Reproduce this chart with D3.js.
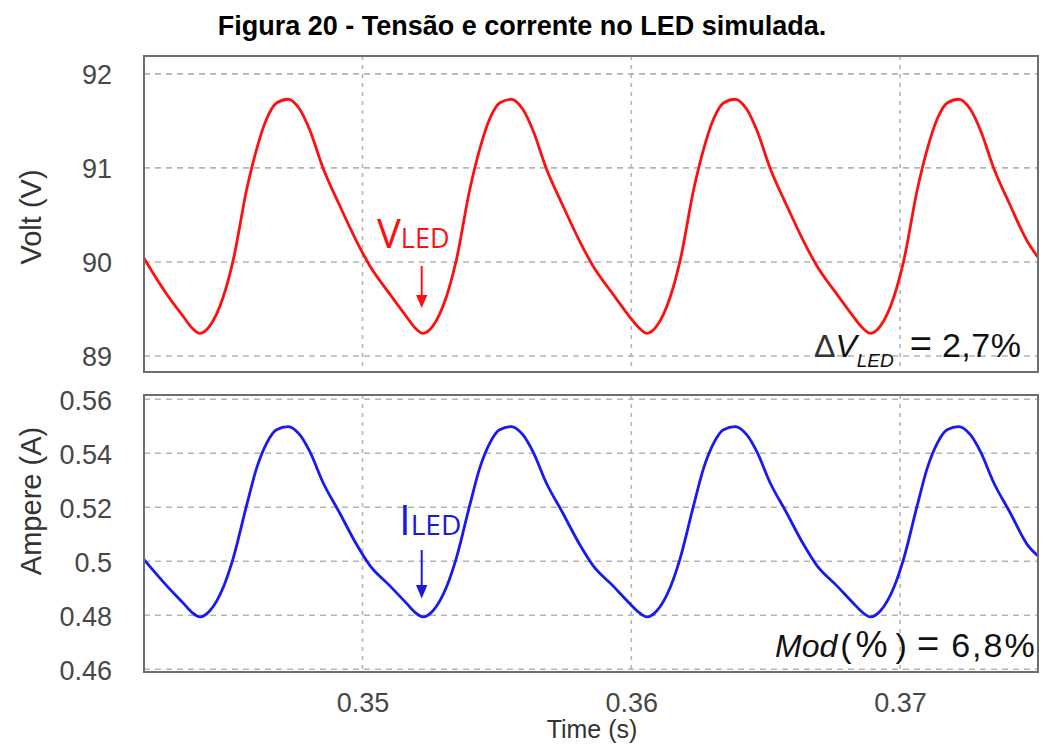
<!DOCTYPE html>
<html>
<head>
<meta charset="utf-8">
<script src="https://cdn.jsdelivr.net/npm/d3@7"></script>
<style>
  html, body { margin: 0; padding: 0; background: #fff; }
  svg { display: block; }
</style>
</head>
<body>
<svg id="chart" width="1042" height="745"></svg>
<script>
// ---------- data ----------
const timeS = [
  0.34187, 0.34271, 0.34333, 0.34365,
  0.34395, 0.34432, 0.34482, 0.34519, 0.34569, 0.34606, 0.34643, 0.34680, 0.34723,
  0.34767, 0.34804, 0.34853, 0.34915, 0.34978, 0.35027, 0.35101, 0.35163, 0.35195,
  0.35225, 0.35262, 0.35312, 0.35349, 0.35399, 0.35436, 0.35473, 0.35510, 0.35553,
  0.35597, 0.35634, 0.35683, 0.35745, 0.35808, 0.35857, 0.35931, 0.35993, 0.36028,
  0.36058, 0.36095, 0.36145, 0.36182, 0.36232, 0.36269, 0.36306, 0.36343, 0.36386,
  0.36430, 0.36467, 0.36516, 0.36578, 0.36641, 0.36690, 0.36764, 0.36826, 0.36860,
  0.36890, 0.36927, 0.36977, 0.37014, 0.37064, 0.37101, 0.37138, 0.37175, 0.37218,
  0.37262, 0.37299, 0.37348, 0.37410, 0.37473, 0.37513
];
const voltV = [
  90.04, 89.66, 89.42, 89.30,
  89.24, 89.32, 89.63, 90.02, 90.77, 91.20, 91.52, 91.69, 91.73,
  91.62, 91.40, 91.00, 90.60, 90.22, 89.96, 89.66, 89.42, 89.30,
  89.24, 89.32, 89.63, 90.02, 90.77, 91.20, 91.52, 91.69, 91.73,
  91.62, 91.40, 91.00, 90.60, 90.22, 89.96, 89.66, 89.42, 89.30,
  89.24, 89.32, 89.63, 90.02, 90.77, 91.20, 91.52, 91.69, 91.73,
  91.62, 91.40, 91.00, 90.60, 90.22, 89.96, 89.66, 89.42, 89.30,
  89.24, 89.32, 89.63, 90.02, 90.77, 91.20, 91.52, 91.69, 91.73,
  91.62, 91.40, 91.00, 90.60, 90.22, 90.05
];
const currentA = [
  0.5006, 0.4910, 0.4845, 0.4811,
  0.4794, 0.4817, 0.4904, 0.5012, 0.5208, 0.5345, 0.5437, 0.5487, 0.5499,
  0.5468, 0.5406, 0.5292, 0.5179, 0.5062, 0.4985, 0.4910, 0.4845, 0.4811,
  0.4794, 0.4817, 0.4904, 0.5012, 0.5208, 0.5345, 0.5437, 0.5487, 0.5499,
  0.5468, 0.5406, 0.5292, 0.5179, 0.5062, 0.4985, 0.4910, 0.4845, 0.4811,
  0.4794, 0.4817, 0.4904, 0.5012, 0.5208, 0.5345, 0.5437, 0.5487, 0.5499,
  0.5468, 0.5406, 0.5292, 0.5179, 0.5062, 0.4985, 0.4910, 0.4845, 0.4811,
  0.4794, 0.4817, 0.4904, 0.5012, 0.5208, 0.5345, 0.5437, 0.5487, 0.5499,
  0.5468, 0.5406, 0.5292, 0.5179, 0.5062, 0.5020
];
const timeTicks = [0.35, 0.36, 0.37];
const voltTicks = [89, 90, 91, 92];
const ampTicks = [0.46, 0.48, 0.5, 0.52, 0.54, 0.56];
const titleText = "Figura 20 - Tensão e corrente no LED simulada.";

// ---------- layout ----------
const svg = d3.select("#chart");
const L = 144, R = 1038;
const top1 = 56, bot1 = 372;
const top2 = 395, bot2 = 672;
const SANS = "'Liberation Sans', Arial, Helvetica, sans-serif";

const x = d3.scaleLinear().domain([0.34187, 0.37513]).range([L, R]);
const yV = d3.scaleLinear().domain([88.83, 92.19]).range([bot1, top1]);
const yI = d3.scaleLinear().domain([0.4590, 0.5616]).range([bot2, top2]);

svg.append("rect").attr("width", 1042).attr("height", 745).attr("fill", "#fff");

// title
svg.append("text")
  .attr("x", 522).attr("y", 35)
  .attr("text-anchor", "middle")
  .attr("font-family", SANS).attr("font-weight", "bold")
  .attr("font-size", 27).attr("fill", "#000")
  .text(titleText);

function panel(yScale, ticks, top, bot, fmt, id) {
  const g = svg.append("g");
  const clipId = "clip" + id;
  svg.append("clipPath").attr("id", clipId)
    .append("rect").attr("x", L).attr("y", top).attr("width", R - L).attr("height", bot - top);
  // horizontal grid
  g.selectAll(".hg").data(ticks).join("line")
    .attr("x1", L).attr("x2", R)
    .attr("y1", d => yScale(d)).attr("y2", d => yScale(d))
    .attr("stroke", "#b4b4b4").attr("stroke-width", 1.6)
    .attr("stroke-dasharray", "6,5");
  // vertical grid
  g.selectAll(".vg").data(timeTicks).join("line")
    .attr("x1", d => x(d)).attr("x2", d => x(d))
    .attr("y1", top).attr("y2", bot)
    .attr("stroke", "#b4b4b4").attr("stroke-width", 1.6)
    .attr("stroke-dasharray", "4,5");
  // y axis labels
  const ax = d3.axisLeft(yScale).tickValues(ticks).tickSize(0).tickPadding(32).tickFormat(fmt);
  const ag = g.append("g").attr("transform", `translate(${L},0)`).call(ax);
  ag.select(".domain").remove();
  ag.selectAll("text").attr("font-family", SANS).attr("font-size", 27)
    .attr("fill", "#474747").attr("dy", "0.36em");
  return {g, clipId};
}

const p1 = panel(yV, voltTicks, top1, bot1, d3.format("d"), 1);
const p2 = panel(yI, ampTicks, top2, bot2, d => String(d), 2);

// lines
const pts = timeS.map((t, i) => ({t, v: voltV[i], a: currentA[i]}));
const lineV = d3.line().x(d => x(d.t)).y(d => yV(d.v)).curve(d3.curveMonotoneX);
const lineI = d3.line().x(d => x(d.t)).y(d => yI(d.a)).curve(d3.curveMonotoneX);
p1.g.append("path").datum(pts).attr("d", lineV)
  .attr("clip-path", `url(#${p1.clipId})`)
  .attr("fill", "none").attr("stroke", "#ff1010").attr("stroke-width", 2.8)
  .attr("stroke-linejoin", "round");
p2.g.append("path").datum(pts).attr("d", lineI)
  .attr("clip-path", `url(#${p2.clipId})`)
  .attr("fill", "none").attr("stroke", "#1a1af0").attr("stroke-width", 2.8)
  .attr("stroke-linejoin", "round");

// frames
[[top1, bot1], [top2, bot2]].forEach(([t, b]) => {
  svg.append("rect").attr("x", L).attr("y", t).attr("width", R - L).attr("height", b - t)
    .attr("fill", "none").attr("stroke", "#6e6e6e").attr("stroke-width", 2);
});

// x axis labels
const xa = d3.axisBottom(x).tickValues(timeTicks).tickSize(0).tickPadding(21).tickFormat(d3.format(".2f"));
const xg = svg.append("g").attr("transform", `translate(0,${bot2})`).call(xa);
xg.select(".domain").remove();
xg.selectAll("text").attr("font-family", SANS).attr("font-size", 27).attr("fill", "#474747");

// axis titles
svg.append("text").attr("transform", "translate(41,217) rotate(-90)")
  .attr("text-anchor", "middle").attr("font-family", SANS).attr("font-size", 29)
  .attr("fill", "#333").text("Volt (V)");
svg.append("text").attr("transform", "translate(41,501) rotate(-90)")
  .attr("text-anchor", "middle").attr("font-family", SANS).attr("font-size", 29)
  .attr("fill", "#333").text("Ampere (A)");
svg.append("text").attr("x", 592).attr("y", 738)
  .attr("text-anchor", "middle").attr("font-family", SANS).attr("font-size", 25)
  .attr("fill", "#333").text("Time (s)");

// annotations: VLED
const ANN = "'Open Sans', 'Noto Sans', sans-serif";
const tV = svg.append("text").attr("x", 377).attr("y", 248).attr("font-family", ANN).attr("fill", "#ff1010");
tV.append("tspan").attr("font-size", 40).text("V");
tV.append("tspan").attr("font-size", 27).text("LED");
svg.append("line").attr("x1", 421.7).attr("x2", 421.7).attr("y1", 266).attr("y2", 298)
  .attr("stroke", "#ff1010").attr("stroke-width", 2);
svg.append("path").attr("d", "M416,295 L427.4,295 L421.7,308 Z").attr("fill", "#ff1010");

// annotations: ILED
const tI = svg.append("text").attr("x", 399).attr("y", 535).attr("font-family", ANN).attr("fill", "#1a1adc");
tI.append("tspan").attr("font-size", 42).text("I");
tI.append("tspan").attr("font-size", 28).text("LED");
svg.append("line").attr("x1", 421.7).attr("x2", 421.7).attr("y1", 550).attr("y2", 588)
  .attr("stroke", "#1a1adc").attr("stroke-width", 2);
svg.append("path").attr("d", "M416,585 L427.4,585 L421.7,598.5 Z").attr("fill", "#1a1adc");

// math annotations
const dV = svg.append("text").attr("x", 814).attr("y", 357).attr("font-family", SANS)
  .attr("font-size", 32).attr("fill", "#111");
dV.append("tspan").attr("fill", "#333").text("Δ");
dV.append("tspan").attr("font-style", "italic").text("V");
dV.append("tspan").attr("font-style", "italic").attr("font-size", 19).attr("dy", 10).text("LED");
dV.append("tspan").attr("dy", -10).attr("dx", 16).attr("font-size", 38).text("=");
dV.append("tspan").attr("dx", 10).attr("font-size", 34).attr("letter-spacing", 0.5).text("2,7%");

const md = svg.append("text").attr("x", 775).attr("y", 657).attr("font-family", SANS)
  .attr("font-size", 32).attr("fill", "#111");
md.append("tspan").attr("font-style", "italic").text("Mod");
md.append("tspan").attr("dx", 3).attr("font-size", 34).text("(");
md.append("tspan").attr("dx", 4).attr("font-size", 36).text("%");
md.append("tspan").attr("dx", 8).attr("font-size", 34).text(")");
md.append("tspan").attr("dx", 10).attr("font-size", 38).text("=");
md.append("tspan").attr("dx", 12).attr("font-size", 34).attr("letter-spacing", 2).text("6,8%");
</script>
</body>
</html>
